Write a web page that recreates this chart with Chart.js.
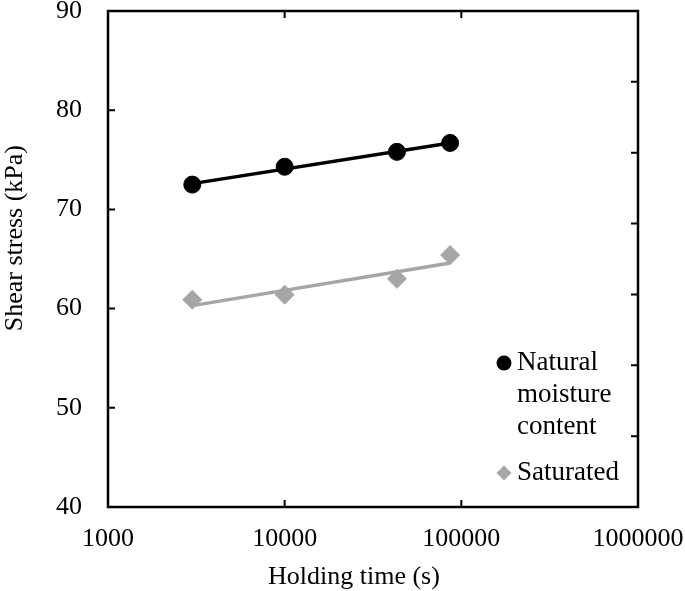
<!DOCTYPE html>
<html>
<head>
<meta charset="utf-8">
<script src="https://cdn.jsdelivr.net/npm/chart.js@4.4.1/dist/chart.umd.min.js"></script>
<style>
  html, body { margin: 0; padding: 0; background: #fff; }
  #wrap { width: 685px; height: 591px; }
</style>
</head>
<body>
<div id="wrap"><canvas id="shearChart"></canvas></div>
<script>
// data
const holdingTime = [3000, 10000, 43200, 86400];
const naturalStress = [72.5, 74.3, 75.8, 76.7];
const saturatedStress = [60.9, 61.4, 63.0, 65.4];
// trend lines, value at first and last holding time
const naturalTrend = [72.6, 76.7];
const saturatedTrend = [60.3, 64.6];
const xTicks = [1000, 10000, 100000, 1000000];
const yTicks = [40, 50, 60, 70, 80, 90];
const rightTicks = [0, 1, 2, 3, 4, 5, 6, 7];
const xTitle = "Holding time (s)";
const yTitle = "Shear stress (kPa)";
const legendItems = [
  { lines: ["Natural", "moisture", "content"], color: "#000000", style: "circle" },
  { lines: ["Saturated"], color: "#a6a6a6", style: "rectRot" },
];

const GRAY = "#a6a6a6";
const FONT = "'Liberation Serif', 'Times New Roman', serif";
Chart.defaults.font.family = FONT;
Chart.defaults.font.size = 26;
Chart.defaults.color = "#000";

const toPoints = (vals) => vals.map((v, i) => ({ x: holdingTime[i], y: v }));
const toTrend = (t) => [
  { x: holdingTime[0], y: t[0] },
  { x: holdingTime[holdingTime.length - 1], y: t[1] },
];
const noPad = (s) => {
  s.paddingTop = 0; s.paddingBottom = 0; s.paddingLeft = 0; s.paddingRight = 0;
};

// frame, inward tick marks, axis titles and the legend inside the plot
const framePlugin = {
  id: "frame",
  afterDraw(chart) {
    const { ctx, chartArea: a, scales } = chart;
    ctx.save();
    ctx.strokeStyle = "#000";
    ctx.lineWidth = 2.5;
    ctx.strokeRect(a.left, a.top, a.right - a.left, a.bottom - a.top);
    const len = 7;
    ctx.lineWidth = 2;
    ctx.beginPath();
    xTicks.slice(1, -1).forEach((v) => {
      const px = scales.x.getPixelForValue(v);
      ctx.moveTo(px, a.bottom); ctx.lineTo(px, a.bottom - len);
      ctx.moveTo(px, a.top); ctx.lineTo(px, a.top + len);
    });
    yTicks.slice(1, -1).forEach((v) => {
      const py = scales.y.getPixelForValue(v);
      ctx.moveTo(a.left, py); ctx.lineTo(a.left + len, py);
    });
    rightTicks.slice(1, -1).forEach((v) => {
      const py = scales.y2.getPixelForValue(v);
      ctx.moveTo(a.right, py); ctx.lineTo(a.right - len, py);
    });
    ctx.stroke();

    // axis titles (a little off-centre, like the original)
    ctx.font = "26px " + FONT;
    ctx.fillStyle = "#000";
    ctx.textAlign = "center";
    ctx.textBaseline = "middle";
    ctx.fillText(xTitle, a.left + (a.right - a.left) * 0.464, chart.height - 14);
    ctx.save();
    ctx.translate(15, a.top + (a.bottom - a.top) * 0.458);
    ctx.rotate(-Math.PI / 2);
    ctx.fillText(yTitle, 0, 0);
    ctx.restore();

    // legend
    const lx = a.right - 134;
    let ly = a.top + 352;
    const lineH = 32;
    ctx.font = "27px " + FONT;
    ctx.textAlign = "left";
    legendItems.forEach((item) => {
      ctx.fillStyle = item.color;
      Chart.helpers.drawPoint(ctx, { pointStyle: item.style, radius: 7.5, borderWidth: 0 }, lx, ly);
      ctx.fillStyle = "#000";
      item.lines.forEach((t, i) => ctx.fillText(t, lx + 13, ly + i * lineH));
      ly += item.lines.length * lineH + 14;
    });
    ctx.restore();
  },
};

new Chart(document.getElementById("shearChart"), {
  type: "scatter",
  data: {
    datasets: [
      {
        type: "line",
        label: "Natural trend",
        data: toTrend(naturalTrend),
        borderColor: "#000",
        borderWidth: 3.5,
        pointRadius: 0,
        order: 3,
      },
      {
        type: "line",
        label: "Saturated trend",
        data: toTrend(saturatedTrend),
        borderColor: GRAY,
        borderWidth: 3.5,
        pointRadius: 0,
        order: 4,
      },
      {
        label: "Natural moisture content",
        data: toPoints(naturalStress),
        pointStyle: "circle",
        pointRadius: 8.5,
        backgroundColor: "#000",
        borderColor: "#000",
        borderWidth: 1,
        order: 1,
      },
      {
        label: "Saturated",
        data: toPoints(saturatedStress),
        pointStyle: "rectRot",
        pointRadius: 9.5,
        backgroundColor: GRAY,
        borderColor: GRAY,
        borderWidth: 1,
        order: 2,
      },
    ],
  },
  options: {
    responsive: true,
    maintainAspectRatio: false,
    animation: false,
    layout: { padding: { top: 11, right: 47, left: 0, bottom: 0 } },
    plugins: { legend: { display: false }, tooltip: { enabled: false } },
    scales: {
      x: {
        type: "logarithmic",
        min: 1000,
        max: 1000000,
        afterBuildTicks: (s) => { s.ticks = xTicks.map((v) => ({ value: v })); },
        afterFit: (s) => { s.height = 84; noPad(s); },
        ticks: { callback: (v) => String(v), padding: 17, maxRotation: 0, autoSkip: false },
        grid: { display: false, drawTicks: false },
        border: { display: false },
      },
      y: {
        min: 40,
        max: 90,
        afterBuildTicks: (s) => { s.ticks = yTicks.map((v) => ({ value: v })); },
        afterFit: (s) => { s.width = 108; noPad(s); },
        ticks: { padding: 26 },
        grid: { display: false, drawTicks: false },
        border: { display: false },
      },
      y2: {
        position: "right",
        min: 0,
        max: 7,
        display: false,
        afterFit: noPad,
      },
    },
  },
  plugins: [framePlugin],
});
</script>
</body>
</html>
